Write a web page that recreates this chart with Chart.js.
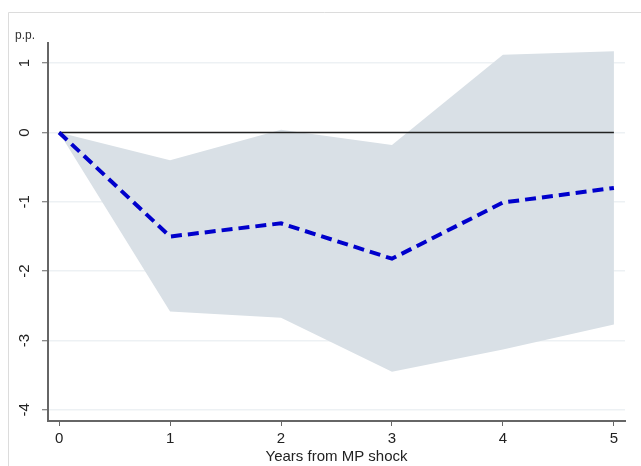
<!DOCTYPE html>
<html>
<head>
<meta charset="utf-8">
<script src="https://cdn.jsdelivr.net/npm/chart.js@4/dist/chart.umd.min.js"></script>
<style>
html,body{margin:0;padding:0;background:#fff;}
#wrap{width:641px;height:466px;position:relative;}
</style>
</head>
<body>
<div id="wrap"><canvas id="c" width="641" height="466"></canvas></div>
<script>
// Data
const years = [0, 1, 2, 3, 4, 5];
const response = [0, -1.5, -1.31, -1.82, -1.01, -0.8];
const upperBand = [0, -0.40, 0.04, -0.18, 1.12, 1.17];
const lowerBand = [0, -2.58, -2.67, -3.45, -3.13, -2.77];
const xTicks = [0, 1, 2, 3, 4, 5];
const yTicks = [-4, -3, -2, -1, 0, 1];
const zeroLine = [0, 0];
const zeroX = [0, 5];

const pts = (xs, ys) => xs.map((x, i) => ({x: x, y: ys[i]}));

const framePlugin = {
  id: 'frame',
  beforeDraw(chart) {
    const ctx = chart.ctx;
    ctx.save();
    ctx.fillStyle = '#fff';
    ctx.fillRect(0, 0, chart.width, chart.height);
    ctx.strokeStyle = '#dcdcdc';
    ctx.lineWidth = 1;
    ctx.beginPath();
    ctx.moveTo(8.5, chart.height);
    ctx.lineTo(8.5, 12.5);
    ctx.lineTo(chart.width, 12.5);
    ctx.stroke();
    ctx.restore();
  },
  afterDraw(chart) {
    const ctx = chart.ctx;
    ctx.save();
    ctx.fillStyle = '#333';
    ctx.font = '12px "Liberation Sans", Arial, sans-serif';
    ctx.textBaseline = 'middle';
    ctx.textAlign = 'left';
    ctx.fillText('p.p.', 15, 36);
    ctx.restore();
  }
};

new Chart(document.getElementById('c'), {
  type: 'line',
  data: {
    datasets: [
      {
        label: 'Response',
        data: pts(years, response),
        borderColor: '#0000cc',
        borderWidth: 4,
        borderDash: [11, 6],
        pointRadius: 0,
        fill: false,
        tension: 0
      },
      {
        label: 'Zero',
        data: pts(zeroX, zeroLine),
        borderColor: '#222',
        borderWidth: 1.6,
        pointRadius: 0,
        fill: false
      },
      {
        label: 'Upper',
        data: pts(years, upperBand),
        borderWidth: 0,
        borderColor: 'rgba(0,0,0,0)',
        backgroundColor: '#d9e0e6',
        pointRadius: 0,
        fill: '+1'
      },
      {
        label: 'Lower',
        data: pts(years, lowerBand),
        borderWidth: 0,
        borderColor: 'rgba(0,0,0,0)',
        backgroundColor: '#d9e0e6',
        pointRadius: 0,
        fill: false
      }
    ]
  },
  options: {
    responsive: false,
    animation: false,
    layout: {padding: {left: 0, right: 16, top: 43, bottom: 0}},
    plugins: {legend: {display: false}, tooltip: {enabled: false}, title: {display: false}},
    scales: {
      x: {
        type: 'linear',
        min: -0.1,
        max: 5.1,
        afterBuildTicks(s) { s.ticks = xTicks.map(v => ({value: v})); },
        afterFit(s) { s.height = 45; },
        border: {color: '#666', width: 2},
        grid: {drawOnChartArea: false, tickLength: 5, tickColor: '#666', tickWidth: 1},
        ticks: {
          color: '#222',
          padding: 4,
          maxRotation: 0,
          font: {family: '"Liberation Sans", Arial, sans-serif', size: 15}
        },
        title: {
          display: true,
          text: 'Years from MP shock',
          color: '#222',
          padding: {top: 0, bottom: 0},
          font: {family: '"Liberation Sans", Arial, sans-serif', size: 15}
        }
      },
      y: {
        type: 'linear',
        min: -4.16,
        max: 1.29,
        afterBuildTicks(s) { s.ticks = yTicks.map(v => ({value: v})); },
        afterFit(s) { s.width = 48; },
        border: {color: '#666', width: 2},
        grid: {color: '#edf1f4', lineWidth: 1.5, tickLength: 6, tickColor: '#666', tickWidth: 1},
        ticks: {
          color: '#222',
          padding: 10,
          minRotation: 90,
          maxRotation: 90,
          crossAlign: 'center',
          font: {family: '"Liberation Sans", Arial, sans-serif', size: 15}
        }
      }
    }
  },
  plugins: [framePlugin]
});
</script>
</body>
</html>
